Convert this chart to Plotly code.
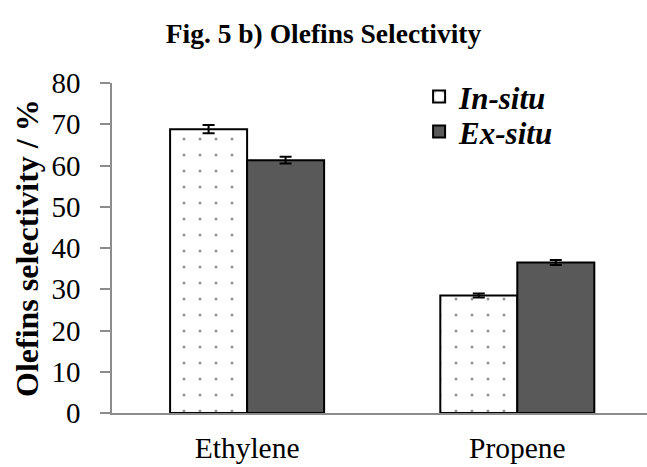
import plotly.graph_objects as go

categories = ["Ethylene", "Propene"]
in_situ = [68.8, 28.5]
in_situ_err = [1.0, 0.5]
ex_situ = [61.3, 36.5]
ex_situ_err = [0.8, 0.6]
y_ticks = [0, 10, 20, 30, 40, 50, 60, 70, 80]

FONT = "Liberation Serif"

fig = go.Figure()
fig.add_trace(go.Bar(
    x=categories, y=in_situ, name="<b><i>In-situ</i></b>", legend="legend",
    marker=dict(color="white", line=dict(color="black", width=2),
                pattern=dict(shape=".", fgcolor="#2a2a2a", bgcolor="white",
                             size=16, solidity=0.028, fillmode="overlay")),
    error_y=dict(type="data", array=in_situ_err, color="black", thickness=2, width=6),
))
fig.add_trace(go.Bar(
    x=categories, y=ex_situ, name="<b><i>Ex-situ</i></b>", legend="legend2",
    marker=dict(color="#595959", line=dict(color="black", width=2)),
    error_y=dict(type="data", array=ex_situ_err, color="black", thickness=2, width=6),
))

leg_common = dict(xanchor="left", yanchor="middle", bgcolor="rgba(0,0,0,0)",
                  font=dict(family=FONT, size=31, color="black"),
                  itemsizing="constant", itemwidth=30)

fig.update_layout(
    width=647, height=467,
    margin=dict(l=112, r=0, t=83, b=54),
    paper_bgcolor="white", plot_bgcolor="white",
    font=dict(family=FONT, color="black", size=28),
    barmode="group", bargap=0.43, bargroupgap=0,
    title=dict(text="<b>Fig. 5 b) Olefins Selectivity</b>", x=0.5, xanchor="center",
               y=1 - 33 / 467, yanchor="middle", yref="container",
               font=dict(family=FONT, size=27.5, color="black")),
    showlegend=True,
    legend=dict(x=0.574, y=0.958, **leg_common),
    legend2=dict(x=0.574, y=0.852, **leg_common),
    xaxis=dict(range=[-0.5, 1.48], showline=True, linecolor="#8c8c8c", linewidth=1.5,
               ticks="", showgrid=False, tickfont=dict(family=FONT, size=29.5, color="black"),
               fixedrange=True, ticklabelstandoff=8, automargin=False),
    yaxis=dict(range=[0, 80], tickvals=y_ticks, showline=True, linecolor="#8c8c8c",
               linewidth=1.5, ticks="outside", ticklen=10, tickcolor="#8c8c8c",
               tickwidth=1.5, showgrid=False, zeroline=False,
               tickfont=dict(family=FONT, size=29, color="black"),
               ticklabelstandoff=14, automargin=False),
    annotations=[dict(text="<b>Olefins selectivity / %</b>", textangle=-90,
                      xref="paper", yref="paper", x=(27 - 112) / 535, y=0.5,
                      xanchor="center", yanchor="middle", showarrow=False,
                      font=dict(family=FONT, size=32, color="black"))],
)

fig.write_html("out.html")
